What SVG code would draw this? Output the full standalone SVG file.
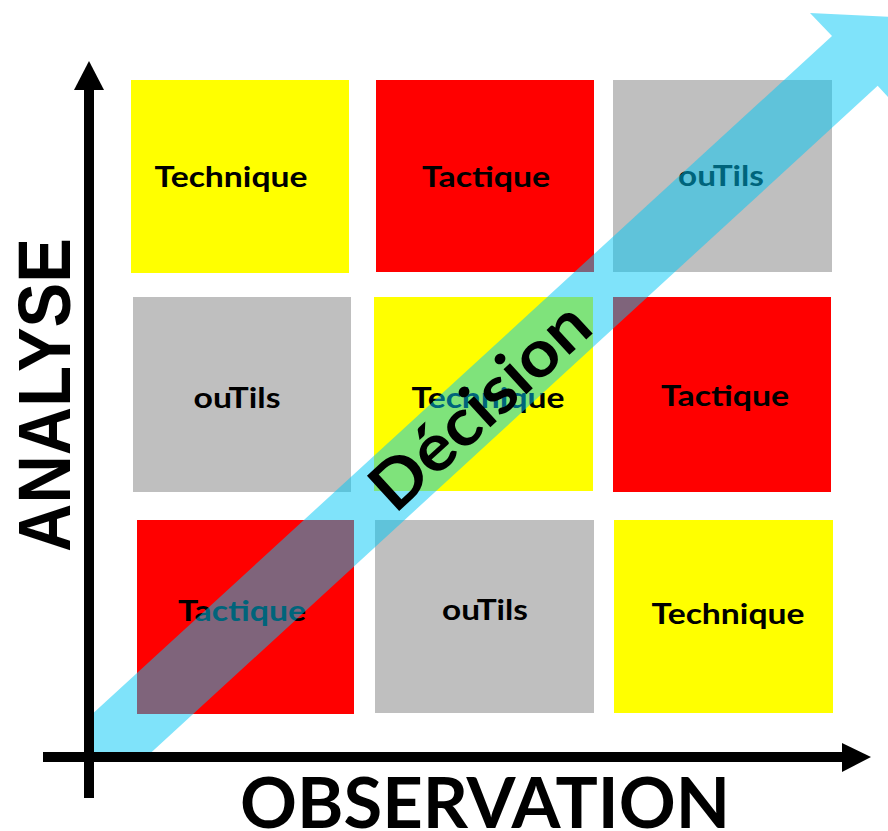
<svg xmlns="http://www.w3.org/2000/svg" width="888" height="831" viewBox="0 0 888 831">
<style>
.lbl{font-family:Lato,"Liberation Sans",sans-serif;font-weight:bold;font-size:28px;fill:#000;text-anchor:middle;dominant-baseline:central}
.yel{fill:#FFFF00}.red{fill:#FF0000}.gry{fill:#BFBFBF}
.axis{fill:#000}
.big{font-family:Lato,"Liberation Sans",sans-serif;font-weight:bold;font-size:70px;fill:#000;text-anchor:middle}
</style>
<rect width="888" height="831" fill="#fff"/>
<g id="cell-r1c1"><rect class="yel" x="131" y="80" width="218" height="193"/><text class="lbl" x="231" y="176" textLength="153" lengthAdjust="spacingAndGlyphs">Technique</text></g>
<g id="cell-r1c2"><rect class="red" x="376" y="80" width="218" height="192"/><text class="lbl" x="486" y="176" textLength="128" lengthAdjust="spacingAndGlyphs">Tactique</text></g>
<g id="cell-r1c3"><rect class="gry" x="613" y="80" width="219" height="192"/><text class="lbl" x="721" y="175" textLength="86" lengthAdjust="spacingAndGlyphs">ouTils</text></g>
<g id="cell-r2c1"><rect class="gry" x="133" y="297" width="218" height="195"/><text class="lbl" x="237" y="397" textLength="87" lengthAdjust="spacingAndGlyphs">ouTils</text></g>
<g id="cell-r2c2"><rect class="yel" x="374" y="297" width="219" height="194"/><text class="lbl" x="488" y="397" textLength="153" lengthAdjust="spacingAndGlyphs">Technique</text></g>
<g id="cell-r2c3"><rect class="red" x="613" y="297" width="218" height="195"/><text class="lbl" x="725" y="395" textLength="128" lengthAdjust="spacingAndGlyphs">Tactique</text></g>
<g id="cell-r3c1"><rect class="red" x="137" y="520" width="217" height="194"/><text class="lbl" x="242" y="610" textLength="128" lengthAdjust="spacingAndGlyphs">Tactique</text></g>
<g id="cell-r3c2"><rect class="gry" x="375" y="520" width="219" height="193"/><text class="lbl" x="485" y="609" textLength="86" lengthAdjust="spacingAndGlyphs">ouTils</text></g>
<g id="cell-r3c3"><rect class="yel" x="614" y="520" width="219" height="193"/><text class="lbl" x="728" y="613" textLength="153" lengthAdjust="spacingAndGlyphs">Technique</text></g>
<g id="decision-arrow">
<polygon points="89,760 89,717 832,36 810,13 901.5,17.4 899,109 877.7,85.8 143,760" fill="#00C8F5" fill-opacity="0.5"/>
<text transform="translate(478,404) rotate(-42.5)" x="0" y="0" font-family="Lato,'Liberation Sans',sans-serif" font-weight="bold" font-size="66" text-anchor="middle" dominant-baseline="central" textLength="272" lengthAdjust="spacingAndGlyphs" fill="#000">Décision</text>
</g>
<g id="axes">
<rect class="axis" x="84" y="88" width="10" height="710"/>
<polygon class="axis" points="74,90 89,61 104,90"/>
<rect class="axis" x="43" y="752" width="801" height="10"/>
<polygon class="axis" points="842,743 871,757 842,772"/>
<text transform="translate(70,395) rotate(-90)" x="0" y="0" font-family="'Liberation Sans',Arial,sans-serif" font-weight="bold" font-size="74" text-anchor="middle" textLength="314" lengthAdjust="spacingAndGlyphs" fill="#000">ANALYSE</text>
<text class="big" x="485" y="828" textLength="490" lengthAdjust="spacingAndGlyphs">OBSERVATION</text>
</g>
</svg>
